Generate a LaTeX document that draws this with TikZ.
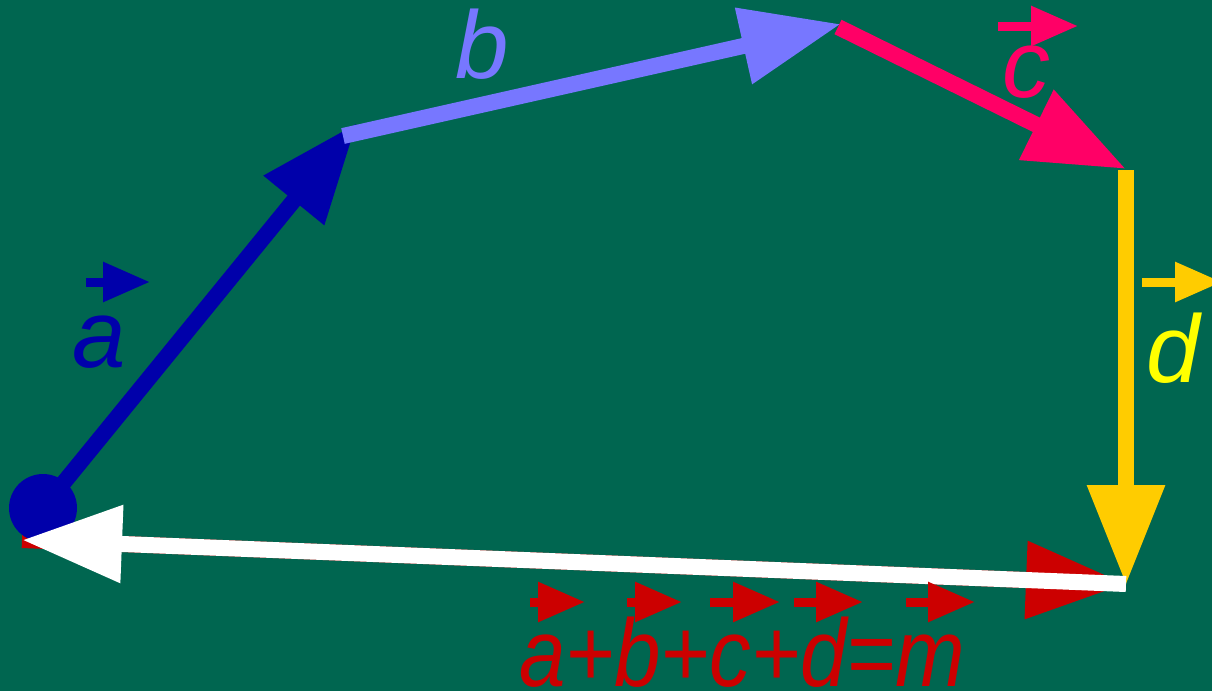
\documentclass[tikz,border=0pt]{standalone}
\usepackage{fontspec}
\newfontfamily\lab{Liberation Sans}
\usetikzlibrary{arrows.meta}
\definecolor{bg}{HTML}{006650}
\definecolor{avec}{HTML}{0000AA}
\definecolor{bvec}{HTML}{7777FF}
\definecolor{cvec}{HTML}{FF0066}
\definecolor{dvec}{HTML}{FFCC00}
\definecolor{dtxt}{HTML}{FFFF00}
\definecolor{mvec}{HTML}{CC0000}
\tikzset{
  vecline/.style={line width=16pt,-{Triangle[length=100pt,width=74pt]}},
  tinyvec/.style={line width=9pt,-{Triangle[length=47pt,width=38pt]}},
  lbl/.style={font=\lab\itshape\fontsize{96}{100}\selectfont,inner sep=0pt,anchor=base west},
}
\begin{document}
\begin{tikzpicture}[x=1pt,y=-1pt]
\useasboundingbox (0,0) rectangle (1212,691);
\fill[bg] (0,0) rectangle (1212,691);
% key points
\coordinate (O) at (43,508);
\coordinate (Atip) at (357,123);
\coordinate (Bs) at (343,136);
\coordinate (Btip) at (841,24);
\coordinate (Cs) at (838,27);
\coordinate (Ctip) at (1126,169);
\coordinate (Ds) at (1126,170);
\coordinate (Dtip) at (1126,585);
\coordinate (Ws) at (1126,584);
\coordinate (Wtip) at (22,540);
% hidden resultant
\draw[vecline,mvec] (Wtip) -- (Ws);
% start dot
\fill[avec] (O) circle[radius=34pt];
% vectors
\draw[vecline,avec] (O) -- (Atip);
\draw[vecline,bvec] (Bs) -- (Btip);
\draw[vecline,cvec] (Cs) -- (Ctip);
\draw[vecline,dvec] (Ds) -- (Dtip);
\draw[vecline,white] (Ws) -- (Wtip);
% labels
\node[lbl,text=avec] (la) at (72,367) {a};
\draw[tinyvec,avec] (86,282) -- (150,282);
\node[lbl,text=bvec] (lb) at (455,78) {b};
\node[lbl,text=cvec] (lc) at (1002,97) {c};
\draw[tinyvec,cvec] (998,26) -- (1078,26);
\node[lbl,text=dtxt] (ld) at (1146,382) {d};
\draw[tinyvec,dvec] (1142,282) -- (1222,282);
\node[lbl,text=mvec] (lm) at (519,686) {\scalebox{0.87}[1]{a+b+c+d=m}};
\draw[tinyvec,mvec] (530,602) -- (585,602);
\draw[tinyvec,mvec] (627,602) -- (682,602);
\draw[tinyvec,mvec] (710,602) -- (780,602);
\draw[tinyvec,mvec] (794,602) -- (863,602);
\draw[tinyvec,mvec] (906,602) -- (975,602);
\end{tikzpicture}
\end{document}
